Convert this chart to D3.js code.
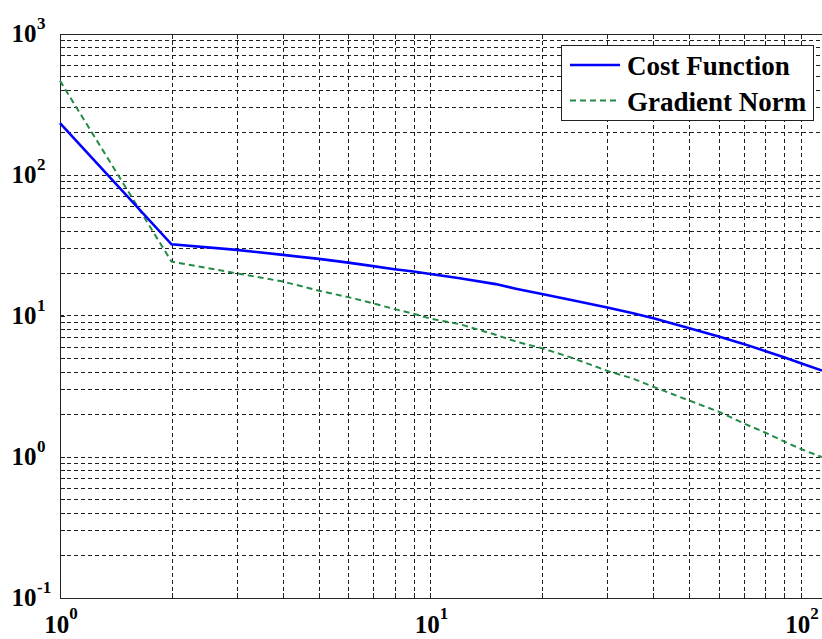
<!DOCTYPE html>
<html>
<head>
<meta charset="utf-8">
<script src="https://cdn.jsdelivr.net/npm/d3@7"></script>
<style>
  html, body { margin: 0; padding: 0; background: #fff; }
  svg { display: block; }
  .lbl { font-family: "Liberation Serif", "Times New Roman", serif; font-weight: bold; fill: #000; }
</style>
</head>
<body>
<svg id="chart" width="822" height="639"></svg>
<script>
// Iteration numbers and the two convergence histories
const iterations   = [1, 2, 3, 4, 5, 6, 7, 8, 9, 10, 12, 15, 17, 20, 24, 30, 35, 40, 50, 60, 70, 80, 90, 100, 114];
const costFunction = [231, 32, 29.2, 26.9, 25.2, 23.7, 22.4, 21.3, 20.5, 19.7, 18.4, 16.7, 15.5, 14.2, 12.9, 11.4, 10.4, 9.55, 8.13, 7.09, 6.29, 5.6, 5.06, 4.59, 4.07];
const gradientNorm = [462, 24.1, 19.9, 17.4, 15.0, 13.5, 12.2, 11.1, 10.3, 9.5, 8.68, 7.3, 6.54, 5.86, 5.03, 4.05, 3.59, 3.12, 2.49, 2.08, 1.72, 1.48, 1.28, 1.13, 0.99];

// Axis limits and decade labels (exponents of 10)
const xDomain = [1, 114];
const yDomain = [0.1, 1000];
const xDecades = [0, 1, 2];
const yDecades = [-1, 0, 1, 2, 3];

const seriesNames = ["Cost Function", "Gradient Norm"];

(function draw() {
  const svg = d3.select("#chart");
  const plotL = 60, plotR = 822, plotT = 33.5, plotB = 597.5;

  const x = d3.scaleLog().domain(xDomain).range([plotL, plotR]);
  const y = d3.scaleLog().domain(yDomain).range([plotB, plotT]);

  const xTicks = x.ticks();
  const yTicks = y.ticks();

  // Dashed grid at every major and minor tick
  const grid = svg.append("g").attr("stroke", "#1e1e1e").attr("stroke-width", 1)
    .attr("stroke-dasharray", "4,3").attr("shape-rendering", "crispEdges");
  grid.selectAll("line.gx").data(xTicks.filter(t => x(t) > plotL + 1 && x(t) < plotR - 1))
    .join("line").attr("class", "gx")
    .attr("x1", d => Math.round(x(d)) + 0.5).attr("x2", d => Math.round(x(d)) + 0.5)
    .attr("y1", plotT).attr("y2", plotB);
  grid.selectAll("line.gy").data(yTicks.filter(t => y(t) > plotT + 1 && y(t) < plotB - 1))
    .join("line").attr("class", "gy")
    .attr("y1", d => Math.round(y(d)) + 0.5).attr("y2", d => Math.round(y(d)) + 0.5)
    .attr("x1", plotL).attr("x2", plotR);

  // Axes with inward ticks
  function styleAxis(g) {
    g.select(".domain").attr("stroke", "#222").attr("stroke-width", 1).attr("shape-rendering", "crispEdges");
    g.selectAll(".tick line").attr("stroke", "#222").attr("shape-rendering", "crispEdges");
    g.selectAll(".tick text").remove();
  }
  svg.append("g").attr("transform", `translate(0,${plotB})`)
    .call(d3.axisBottom(x).tickValues(xTicks).tickSizeInner(-5).tickSizeOuter(0).tickFormat(""))
    .call(styleAxis);
  svg.append("g").attr("transform", `translate(0,${plotT})`)
    .call(d3.axisTop(x).tickValues(xTicks).tickSizeInner(-5).tickSizeOuter(0).tickFormat(""))
    .call(styleAxis);
  svg.append("g").attr("transform", `translate(${plotL},0)`)
    .call(d3.axisLeft(y).tickValues(yTicks).tickSizeInner(-5).tickSizeOuter(0).tickFormat(""))
    .call(styleAxis);

  // Decade labels
  xDecades.forEach(e => {
    const t = svg.append("text").attr("class", "lbl")
      .attr("x", x(Math.pow(10, e)) + 1).attr("y", 633).attr("text-anchor", "middle");
    t.append("tspan").attr("font-size", 25).text("10");
    t.append("tspan").attr("font-size", 17).attr("dy", -14).text(String(e));
  });
  yDecades.forEach(e => {
    const yy = y(Math.pow(10, e));
    svg.append("text").attr("class", "lbl").attr("font-size", 25)
      .attr("x", 36.5).attr("y", yy + 8.5).attr("text-anchor", "end").text("10");
    svg.append("text").attr("class", "lbl").attr("font-size", 17)
      .attr("x", 37).attr("y", yy - 4.5).text(String(e));
  });

  // Curves
  const line = d3.line().x(d => x(d[0])).y(d => y(d[1]));
  const costPts = iterations.map((v, i) => [v, costFunction[i]]);
  const gradPts = iterations.map((v, i) => [v, gradientNorm[i]]);

  svg.append("path").datum(gradPts).attr("d", line)
    .attr("fill", "none").attr("stroke", "#238b45").attr("stroke-width", 2)
    .attr("stroke-dasharray", "6,4");
  svg.append("path").datum(costPts).attr("d", line)
    .attr("fill", "none").attr("stroke", "#0000ff").attr("stroke-width", 2.6);

  // Legend
  const lg = svg.append("g");
  lg.append("rect").attr("x", 561.5).attr("y", 45.5).attr("width", 252).attr("height", 75)
    .attr("fill", "#fff").attr("stroke", "#222").attr("stroke-width", 1);
  const legendStyles = [
    { color: "#0000ff", width: 2.6, dash: null, y: 65 },
    { color: "#238b45", width: 2, dash: "6,4", y: 100.5 }
  ];
  seriesNames.forEach((name, i) => {
    const s = legendStyles[i];
    const l = lg.append("line").attr("x1", 570).attr("x2", 620).attr("y1", s.y).attr("y2", s.y)
      .attr("stroke", s.color).attr("stroke-width", s.width);
    if (s.dash) l.attr("stroke-dasharray", s.dash);
    lg.append("text").attr("class", "lbl").attr("font-size", 27)
      .attr("x", 627).attr("y", s.y + 10).text(name);
  });
})();
</script>
</body>
</html>
